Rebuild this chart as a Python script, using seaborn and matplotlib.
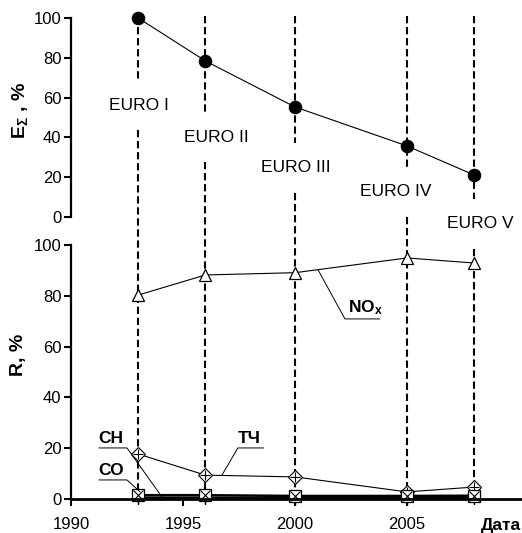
import matplotlib
matplotlib.use("Agg")
import matplotlib.pyplot as plt
import numpy as np
import pandas as pd
import seaborn as sns

# ---------------- data ----------------
years = [1993, 1996, 2000, 2005, 2008]
euro_labels = ["EURO I", "EURO II", "EURO III", "EURO IV", "EURO V"]
e_sum = [100, 78.4, 55.3, 35.7, 21.1]      # E_Sigma, %
nox = [80.3, 88.2, 89.1, 94.9, 92.9]       # NOx, %
pm = [17.7, 9.4, 8.7, 2.8, 4.7]            # TCh (particulates), %
co = [1.5, 1.5, 1.2, 1.2, 1.3]             # CO, %
ch = [0.5, 0.5, 0.4, 0.4, 0.4]             # CH, %
x_ticks = [1990, 1995, 2000, 2005]
y_ticks = [0, 20, 40, 60, 80, 100]

# ---------------- style ----------------
sns.set_style("ticks")
plt.rcParams["font.family"] = ["Liberation Sans", "DejaVu Sans"]
plt.rcParams["mathtext.fontset"] = "custom"
plt.rcParams["mathtext.rm"] = "Liberation Sans"
plt.rcParams["mathtext.bf"] = "Liberation Sans:bold"
plt.rcParams["mathtext.default"] = "regular"
for key in ("text.color", "axes.labelcolor", "xtick.color", "ytick.color",
            "axes.edgecolor"):
    plt.rcParams[key] = "black"

W, H = 522, 533
X0_PX, PX_YR = 71, 22.4
TICK_FS = 12


def rect(x0, y0, x1, y1):
    return [x0 / W, 1 - y1 / H, (x1 - x0) / W, (y1 - y0) / H]


fig = plt.figure(figsize=(W / 100, H / 100), dpi=100)
fig.patch.set_facecolor("white")

ax_top = fig.add_axes(rect(71, 18, 522, 217))
ax_bot = fig.add_axes(rect(71, 245, 522, 499))
ov = fig.add_axes([0, 0, 1, 1])

xlim = (1990, 1990 + (W - X0_PX) / PX_YR)
for ax in (ax_top, ax_bot):
    ax.set_xlim(*xlim)
    ax.set_ylim(0, 100)
    ax.set_zorder(2)
    ax.patch.set_visible(False)
    ax.set_yticks(y_ticks)
    for s in ("top", "right"):
        ax.spines[s].set_visible(False)
    ax.spines["left"].set_linewidth(1.6)
    ax.tick_params(axis="y", direction="out", length=5, width=1.5, pad=2,
                   labelsize=TICK_FS, colors="black")

ov.set_xlim(1990 - X0_PX / PX_YR, 1990 + (W - X0_PX) / PX_YR)
ov.set_ylim(H, 0)
ov.axis("off")
ov.set_zorder(0)

# top panel
ax_top.spines["bottom"].set_visible(False)
ax_top.set_xticks([])
df_top = pd.DataFrame({"year": years, "E": e_sum})
sns.lineplot(data=df_top, x="year", y="E", ax=ax_top, color="black", lw=0.8,
             marker="o", markersize=9, markerfacecolor="black",
             markeredgecolor="black", legend=False, clip_on=False)
ax_top.set_xlabel("")
ax_top.set_ylabel("")

# bottom panel
ax_bot.spines["bottom"].set_linewidth(2)
ax_bot.set_xticks(x_ticks)
ax_bot.tick_params(axis="x", direction="out", length=5, width=1.5, pad=8,
                   labelsize=TICK_FS, colors="black")
df_bot = pd.DataFrame({"year": years, "NOx": nox, "PM": pm, "CO": co, "CH": ch})
sns.lineplot(data=df_bot, x="year", y="NOx", ax=ax_bot, color="black", lw=0.8,
             marker="^", markersize=9, markerfacecolor="white",
             markeredgecolor="black", markeredgewidth=0.9, legend=False)
sns.lineplot(data=df_bot, x="year", y="PM", ax=ax_bot, color="black", lw=0.8,
             marker="D", markersize=7, markerfacecolor="white",
             markeredgecolor="black", markeredgewidth=0.8, legend=False)
ax_bot.plot(years, pm, ls="none", marker="+", ms=7, mec="black", mew=0.8)
sns.lineplot(data=df_bot, x="year", y="CH", ax=ax_bot, color="black", lw=1.8,
             marker=(6, 2, 0), markersize=9, markeredgecolor="black",
             markeredgewidth=0.9, legend=False, clip_on=False)
sns.lineplot(data=df_bot, x="year", y="CO", ax=ax_bot, color="black", lw=1.8,
             marker="s", markersize=8, markerfacecolor="white",
             markeredgecolor="black", markeredgewidth=0.9, legend=False,
             clip_on=False)
ax_bot.plot(years, co, ls="none", marker="x", ms=7, mec="black", mew=0.8,
            clip_on=False)
ax_bot.set_xlabel("")
ax_bot.set_ylabel("")

# leader lines + series labels (bottom panel data coords)
leaders = [
    ([2001.03, 2002.23, 2003.79], [90.2, 70.9, 70.9]),
    ([1991.25, 1992.5, 1994.06], [20.1, 20.1, 0.8]),
    ([1991.25, 1992.5, 1993.08], [7.5, 7.5, 2.8]),
    ([1996.74, 1997.45, 1998.6], [9.4, 20.1, 20.1]),
]
for lx, ly in leaders:
    ax_bot.plot(lx, ly, color="black", lw=0.7)
ax_bot.text(2002.35, 73.4, r"NO$_{\mathbf{x}}$", fontsize=12.5, fontweight="bold",
            va="baseline", ha="left")
ax_bot.text(1991.2, 22.0, "СН", fontsize=12.5, fontweight="bold", va="baseline")
ax_bot.text(1991.2, 9.4, "СО", fontsize=12.5, fontweight="bold", va="baseline")
ax_bot.text(1997.45, 22.0, "ТЧ", fontsize=12.5, fontweight="bold", va="baseline")

# vertical dashed EURO lines with gaps for labels (overlay, pixel y)
gap_y = [105, 137, 168, 192, 224]
label_dx = [1, 11, 1, -11, 6]
for yr, gy, dx, lab in zip(years, gap_y, label_dx, euro_labels):
    for y0, y1 in ((16, gy - 25), (gy + 25, 499)):
        ov.plot([yr, yr], [y0, y1], color="black", lw=1.5,
                ls=(0, (3.5, 1.8)))
    ov.text(yr + dx / PX_YR, gy, lab, ha="center", va="center", fontsize=12.5)

# axis titles
ov.text(1990 - (X0_PX - 20) / PX_YR, 110, r"E$_{\Sigma}$ , %", rotation=90,
        ha="center", va="center", fontsize=14, fontweight="bold")
ov.text(1990 - (X0_PX - 19) / PX_YR, 355, "R, %", rotation=90,
        ha="center", va="center", fontsize=14, fontweight="bold")
ov.text(1990 + (521 - X0_PX) / PX_YR, 530, "Дата", ha="right", va="baseline",
        fontsize=12.5, fontweight="bold")

fig.savefig("out.png", dpi=100, facecolor="white")
